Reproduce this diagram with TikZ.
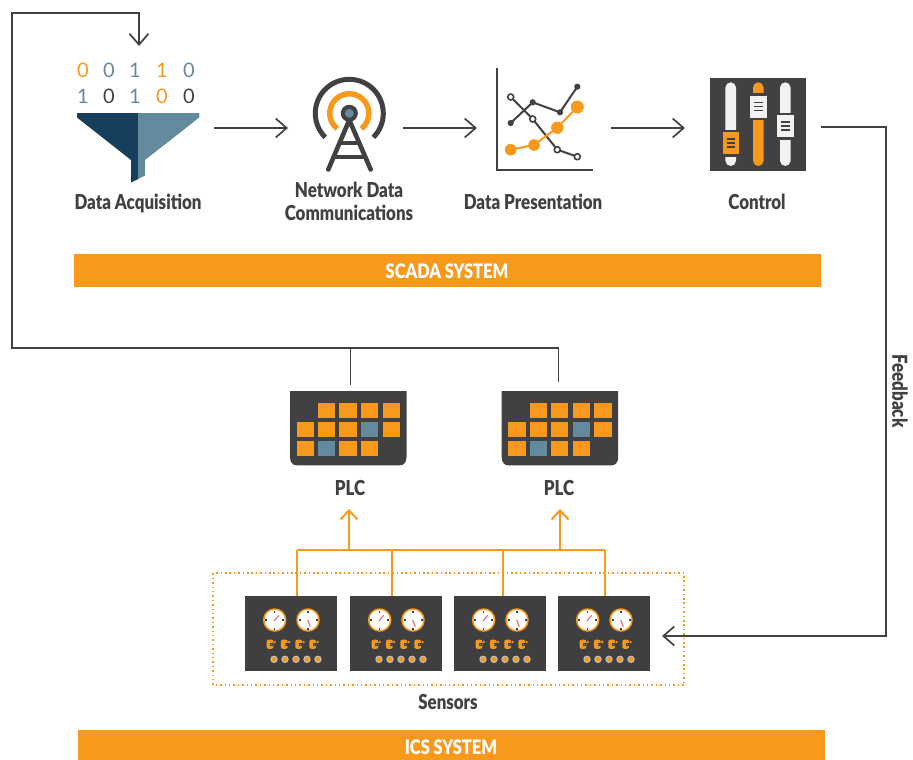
\documentclass[tikz,border=0pt]{standalone}
\usepackage{fontspec}
\usetikzlibrary{arrows.meta}
\newfontfamily\lab[FakeStretch=0.82]{Lato Black}
\newfontfamily\digi{Lato}
\definecolor{ink}{HTML}{414042}
\definecolor{org}{HTML}{F9991C}
\definecolor{slate}{HTML}{648A9E}
\definecolor{navy}{HTML}{153F5A}
\definecolor{needle}{HTML}{E0606A}
\definecolor{pale}{HTML}{F1F1F1}
\tikzset{
  x=1pt,y=-1pt,
  lbl/.style={font=\lab\fontsize{20.6}{23}\selectfont,text=ink,inner sep=0pt,align=center},
  barlbl/.style={font=\lab\fontsize{20}{23}\selectfont,text=white,inner sep=0pt},
  banner/.style={fill=org,draw=none,inner sep=0pt,minimum width=747pt,minimum height=#1},
  conn/.style={draw=ink,line width=1.7pt,-{Straight Barb[length=11pt,width=19pt,line width=1.7pt]}},
  line/.style={draw=ink,line width=1.7pt},
  oconn/.style={draw=org,line width=2pt,-{Straight Barb[length=9pt,width=17pt,line width=2pt]}},
  oline/.style={draw=org,line width=2pt},
  bit/.style={font=\digi\fontsize{20}{20}\selectfont,inner sep=0pt},
  anchorbox/.style={inner sep=0pt,minimum width=#1,minimum height=1pt},
  panelbox/.style={fill=ink!97!black,inner sep=0pt,minimum width=92pt,minimum height=75pt},
  tower/.style={draw=ink,line width=4.6pt,line cap=round},
}
\newcommand{\plcicon}[1]{%
  \begin{scope}[shift={(#1,391)}]
    \fill[ink] (0,0) -- (116.5,0) -- (116.5,66) .. controls (116.5,71) and (114,74.3) .. (110,74.3)
      -- (6.5,74.3) .. controls (2.5,74.3) and (0,71) .. (0,66) -- cycle;
    \foreach \cx/\cy/\cc in {28/12/org,49.3/12/org,71/12/org,92.7/12/org,
      6.7/31/org,28/31/org,49.3/31/org,71/31/slate,92.7/31/org,
      6.7/50/org,28/50/slate,49.3/50/org,71/50/org}
      \fill[\cc] (\cx,\cy) rectangle +(17.3,15.3);
  \end{scope}}
\newcommand{\sensoricon}[1]{%
  \begin{scope}[shift={(#1,596)}]
    \foreach \gx in {29.7,63}{
      \fill[white,draw=org,line width=1.5pt] (\gx,24) circle[radius=11];
      \foreach \ax/\ay/\bx/\by in {0/-9.5/0/-7.5,0/9.5/0/7.5,-9.5/0/-7.5/0,9.5/0/7.5/0}
        \draw[ink,line width=1.1pt] (\gx+\ax,24+\ay) -- (\gx+\bx,24+\by);
    }
    \draw[needle,line width=1pt] (29,25) -- (33.7,19.3);
    \draw[needle,line width=1pt] (62.7,24) -- (65.3,30.7);
    \foreach \gx in {25,39.3,53.7,67.7}{
      \fill[org,rounded corners=2pt] (\gx-3.4,43.7) rectangle (\gx+3.4,52.8);
      \fill[ink] (\gx+0.2,46.8) rectangle (\gx+3.4,50);
      \fill[slate] (\gx+0.8,47.6) rectangle (\gx+2,49.2);
      \fill[org] (\gx+4.9,46) circle[radius=1.3];
    }
    \foreach \gx in {29,40,51,62,73}
      \fill[org,draw=black!25,line width=1pt] (\gx,63.3) circle[radius=3.2];
  \end{scope}}
\begin{document}
\begin{tikzpicture}
\useasboundingbox (0,0) rectangle (913,760);
\coordinate (acqtop) at (139,46);
% Funnel
\fill[navy] (77,113) -- (138.3,113) -- (138.3,179) -- (131,182.5) -- (131,160) -- (77,117.5) -- cycle;
\fill[slate] (138,113) -- (199.3,113) -- (199.3,117.5) -- (145,160) -- (145,175.5) -- (138,179) -- cycle;
\foreach \bx/\bt/\bc in {83/0/org,109/0/slate,135/1/slate,162/1/org,189/0/slate}
  \node[bit,text=\bc] at (\bx,70) {\bt};
\foreach \bx/\bt/\bc in {83/1/slate,109/0/ink,135/1/slate,162/0/org,189/0/ink}
  \node[bit,text=\bc] at (\bx,96) {\bt};
\node[lbl] (lacq) at (138,203.5) {Data Acquisition};
% Tower
\draw[ink,line width=5pt] plot[domain=225:-45,samples=50,smooth] ({349.3+34*cos(\x)},{113.3-34*sin(\x)});
\draw[org,line width=5.5pt] plot[domain=232:-52,samples=50,smooth] ({349.3+19.5*cos(\x)},{113.3-19.5*sin(\x)});
\draw[tower] (328.3,169.5) -- (349.3,120) -- (370.7,169.5);
\draw[ink,line width=4pt] (338,143) -- (360.5,143);
\draw[ink,line width=4pt] (332.5,156.7) -- (366,156.7);
\fill[slate,draw=ink,line width=4pt] (349.3,113.3) circle[radius=6.5];
\node[lbl] (lnet) at (349,201.5) {Network Data\\[0pt]Communications};
% Chart
\draw[ink,line width=1.8pt] (497.3,68) -- (497.3,170) -- (592.7,170);
\draw[ink,line width=2pt] (510.7,123) -- (532.7,102.3) -- (560,112.3) -- (577.3,86.7);
\foreach \px/\py in {510.7/123,532.7/102.3,560/112.3,577.3/86.7} \fill[ink] (\px,\py) circle[radius=3.1];
\draw[ink,line width=2pt] (510.7,97) -- (532.7,119) -- (557.3,149.7) -- (577.3,156.7);
\draw[org,line width=2pt] (510.7,149.7) -- (534,145) -- (557.3,127.7) -- (577.3,107);
\foreach \px/\py/\pr in {510.7/149.7/5.8,534/145/5.8,557.3/127.7/6.2,577.3/107/6.5} \fill[org] (\px,\py) circle[radius=\pr];
\foreach \px/\py in {510.7/97,532.7/119,557.3/149.7,577.3/156.7} \fill[white,draw=ink,line width=1.6pt] (\px,\py) circle[radius=3];
\node[lbl] (lpres) at (533,202) {Data Presentation};
% Control
\fill[ink] (710,78.3) rectangle (806,171.3);
\fill[pale,rounded corners=5.3pt] (725.4,82.3) rectangle (736,166);
\fill[org,rounded corners=5.3pt] (753,82.3) rectangle (763.6,166);
\fill[pale,rounded corners=5.3pt] (780,82.3) rectangle (790.6,166);
\foreach \hx/\hy/\hc in {731/143/org,758.3/106.7/pale,785.6/126/pale}{
  \fill[ink] (\hx-8.3,\hy-13.5) rectangle (\hx+8.3,\hy+13.5);
  \fill[\hc] (\hx-8.3,\hy-11) rectangle (\hx+8.3,\hy+11);
  \foreach \dy in {-4,0,4} \draw[ink,line width=1.4pt] (\hx-4.3,\hy+\dy) -- (\hx+4.3,\hy+\dy);
}
\node[lbl] (lctrl) at (757,202) {Control};
% Scada
\node[banner=33pt] (scada) at (447.5,270.5) {};
\node[barlbl] at (447,271) {SCADA SYSTEM};
% PLC
\plcicon{290}
\plcicon{501.7}
\node[anchorbox=116pt] (plcA) at (350.5,385) {};
\node[anchorbox=116pt] (plcB) at (558.5,382) {};
\node[lbl] (lplcA) at (350,488) {PLC};
\node[lbl] (lplcB) at (559,488) {PLC};
% Sensors
\draw[draw=org,line width=1.8pt,dash pattern=on 1.5pt off 2.9pt] (213.3,573.3) rectangle (684.3,685.3);
\node[panelbox] (s1) at (291,633.4) {};
\node[panelbox] (s2) at (396,633.4) {};
\node[panelbox] (s3) at (500,633.4) {};
\node[panelbox] (s4) at (604,633.4) {};
\sensoricon{245}\sensoricon{350}\sensoricon{454}\sensoricon{558}
\node[lbl] (lsens) at (448,702) {Sensors};
\node[banner=30pt] (ics) at (451.5,745) {};
\node[barlbl] at (451,747) {ICS SYSTEM};
% Named points
\coordinate (busL) at (297.3,550);
\coordinate (busR) at (605,550);
\coordinate (tipA) at (349,509);
\coordinate (tipB) at (560,509);
\coordinate (fbtop) at (821,127);
\coordinate (fbend) at (662,636);
\coordinate (loopY) at (12,348);
\coordinate (loopT) at (12,13);
\coordinate (a1) at (214,128); \coordinate (a2) at (288,128);
\coordinate (b1) at (403,128); \coordinate (b2) at (477,128);
\coordinate (c1) at (611,128); \coordinate (c2) at (685,128);
% Connectors
\draw[conn] (a1) -- (a2);
\draw[conn] (b1) -- (b2);
\draw[conn] (c1) -- (c2);
\draw[line,-{Straight Barb[length=11pt,width=19pt,line width=1.7pt]}] (plcA.center) |- (loopY) -- (loopT) -| (acqtop);
\draw[line] (plcB.center) |- (plcA.center |- loopY);
\draw[line,-{Straight Barb[length=11pt,width=19pt,line width=1.7pt]}] (fbtop) -| (886,636) -- (fbend);
\draw[oline] (busL) -- (busR);
\draw[oline] (s1.north -| busL) -- (busL);
\draw[oline] (392,596) -- (392,550);
\draw[oline] (502.7,596) -- (502.7,550);
\draw[oline] (busR |- s4.north) -- (busR);
\draw[oconn] (tipA |- busL) -- (tipA);
\draw[oconn] (tipB |- busL) -- (tipB);
\node[lbl,rotate=-90] (lfb) at (900,391) {Feedback};
\end{tikzpicture}
\end{document}
